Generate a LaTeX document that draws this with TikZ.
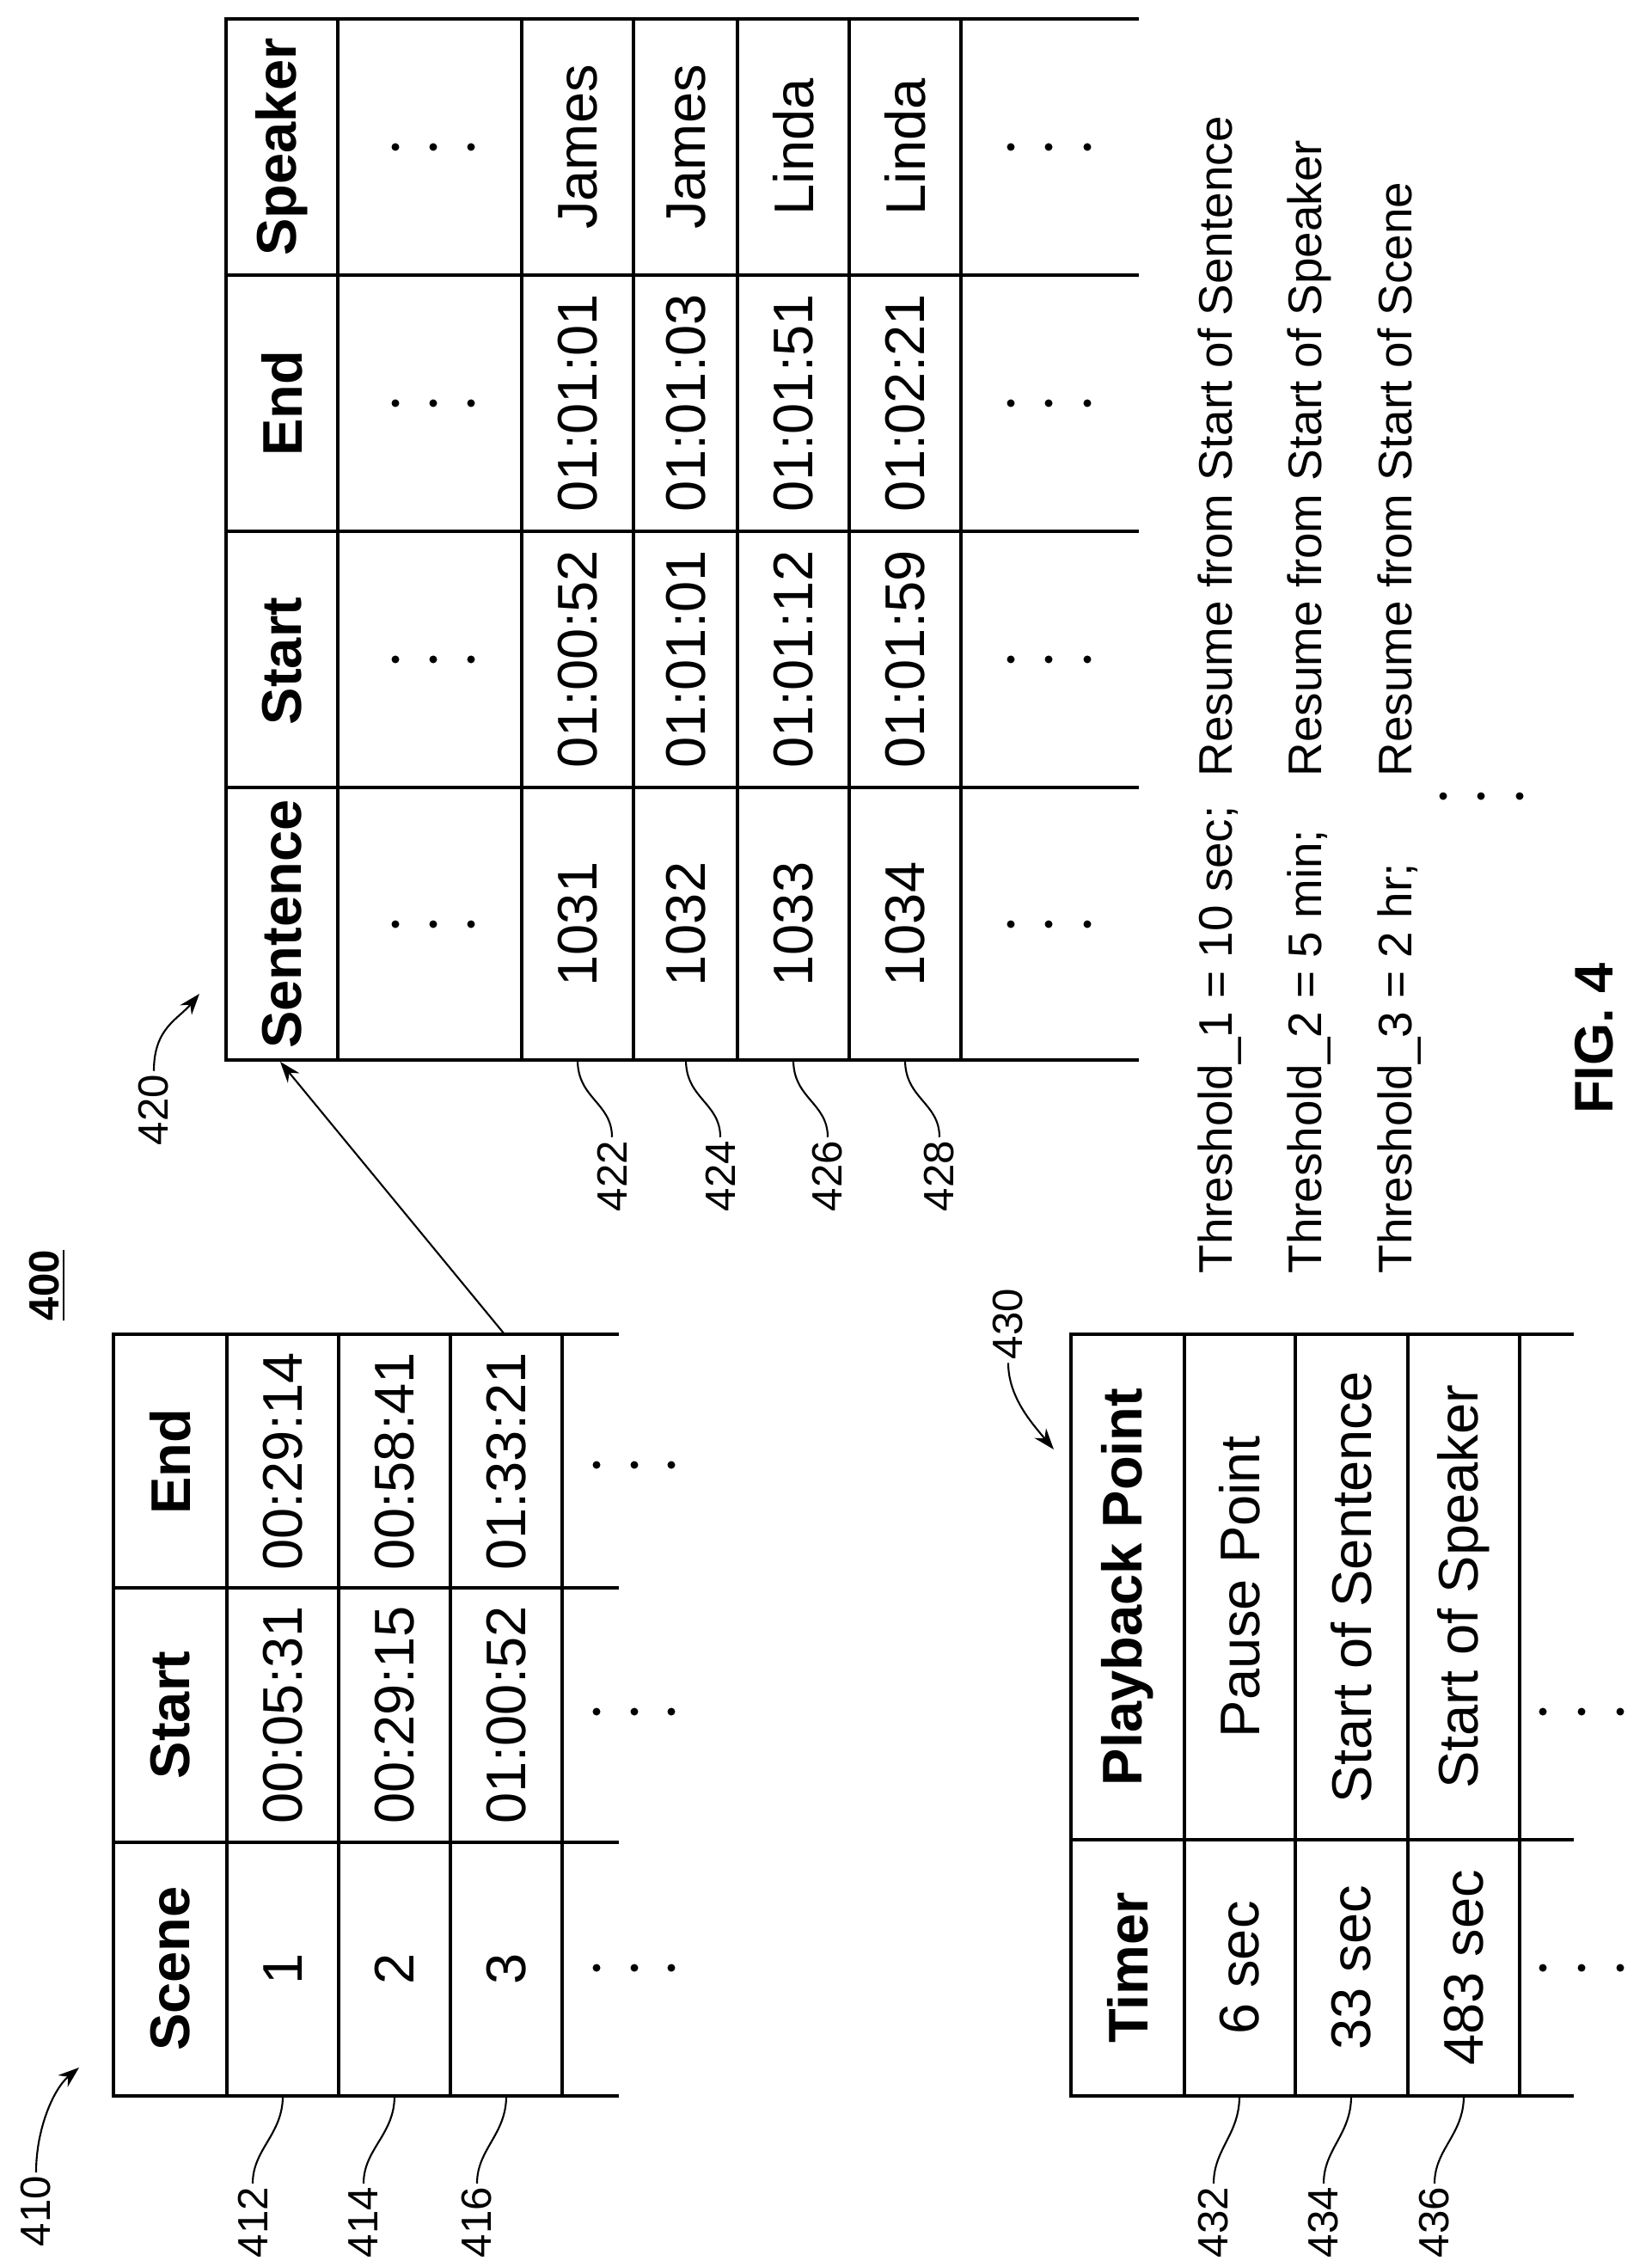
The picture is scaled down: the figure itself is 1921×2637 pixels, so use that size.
\documentclass[tikz,border=0pt]{standalone}
\usepackage{fontspec}
\setmainfont{Liberation Sans}
\usetikzlibrary{arrows.meta}
\begin{document}
\begin{tikzpicture}[x=0.1mm,y=-0.1mm,
  tl/.style={line width=0.9pt},
  cell/.style={rotate=90,inner sep=0pt,font=\fontsize{18.5}{22}\selectfont},
  hdr/.style={cell,font=\fontsize{18.5}{22}\selectfont\bfseries},
  lab/.style={rotate=90,inner sep=1pt,font=\fontsize{14}{16}\selectfont},
  thr/.style={rotate=90,inner sep=0pt,anchor=base west,font=\fontsize{15.6}{18}\selectfont},
  ld/.style={line width=0.6pt},
  arr/.style={line width=0.6pt,-{Stealth[length=7pt,width=5pt]}},
  dot/.style={fill=black,draw=none}]
\useasboundingbox (0,0) rectangle (1921,2637);
% ---------- table 410 ----------
\draw[tl] (720,1552) -- (132,1552) -- (132,2438) -- (720,2438);
\draw[tl] (132,1847) -- (720,1847) (132,2143) -- (720,2143);
\foreach \x in {264,394,524,654} \draw[tl] (\x,1552) -- (\x,2438);
\node[hdr] (a11) at (198,2290) {Scene};
\node[hdr] (a12) at (198,1995) {Start};
\node[hdr] (a13) at (198,1700) {End};
\node[cell] (a21) at (329,2290) {1};
\node[cell] (a22) at (329,1995) {00:05:31};
\node[cell] (a23) at (329,1700) {00:29:14};
\node[cell] (a31) at (459,2290) {2};
\node[cell] (a32) at (459,1995) {00:29:15};
\node[cell] (a33) at (459,1700) {00:58:41};
\node[cell] (a41) at (589,2290) {3};
\node[cell] (a42) at (589,1995) {01:00:52};
\node[cell] (a43) at (589,1700) {01:33:21};
\foreach \y in {2289,1991,1704} \foreach \x in {694,738,781} \fill[dot] (\x,\y) circle (4.5);
% ---------- table 420 ----------
\draw[tl] (1325,22) -- (263,22) -- (263,1233) -- (1325,1233);
\foreach \y in {320,618,916} \draw[tl] (263,\y) -- (1325,\y);
\foreach \x in {393,607,737,858,988,1118} \draw[tl] (\x,22) -- (\x,1233);
\node[hdr] (b11) at (328,1075) {Sentence};
\node[hdr] (b12) at (328,769) {Start};
\node[hdr] (b13) at (328,469) {End};
\node[hdr] (b14) at (328,171) {Speaker};
\foreach \y in {1075,767,469,171} {
  \foreach \x in {460,504,548} \fill[dot] (\x,\y) circle (4.5);
  \foreach \x in {1176,1220,1265} \fill[dot] (\x,\y) circle (4.5);}
\node[cell] (b21) at (672,1075) {1031};
\node[cell] (b22) at (672,767) {01:00:52};
\node[cell] (b23) at (672,469) {01:01:01};
\node[cell] (b24) at (672,171) {James};
\node[cell] (b31) at (798,1075) {1032};
\node[cell] (b32) at (798,767) {01:01:01};
\node[cell] (b33) at (798,469) {01:01:03};
\node[cell] (b34) at (798,171) {James};
\node[cell] (b41) at (923,1075) {1033};
\node[cell] (b42) at (923,767) {01:01:12};
\node[cell] (b43) at (923,469) {01:01:51};
\node[cell] (b44) at (923,171) {Linda};
\node[cell] (b51) at (1053,1075) {1034};
\node[cell] (b52) at (1053,767) {01:01:59};
\node[cell] (b53) at (1053,469) {01:02:21};
\node[cell] (b54) at (1053,171) {Linda};
% ---------- table 430 ----------
\draw[tl] (1831,1552) -- (1246,1552) -- (1246,2438) -- (1831,2438);
\draw[tl] (1246,2140) -- (1831,2140);
\foreach \x in {1378,1507,1638,1768} \draw[tl] (\x,1552) -- (\x,2438);
\node[hdr] (c11) at (1312,2289) {Timer};
\node[hdr] (c12) at (1312,1846) {Playback Point};
\node[cell] (c21) at (1442,2289) {6 sec};
\node[cell] (c22) at (1442,1846) {Pause Point};
\node[cell] (c31) at (1572,2289) {33 sec};
\node[cell] (c32) at (1572,1846) {Start of Sentence};
\node[cell] (c41) at (1703,2289) {483 sec};
\node[cell] (c42) at (1703,1846) {Start of Speaker};
\foreach \y in {2289,1991} \foreach \x in {1795,1840,1885} \fill[dot] (\x,\y) circle (4.5);
% ---------- thresholds ----------
\node[thr] (t1) at (1433,1482) {Threshold\_1 = 10 sec;};
\node[thr] (t2) at (1537,1482) {Threshold\_2 = 5 min;};
\node[thr] (t3) at (1642,1482) {Threshold\_3 = 2 hr;};
\node[thr] (r1) at (1433,904) {Resume from Start of Sentence};
\node[thr] (r2) at (1537,904) {Resume from Start of Speaker};
\node[thr] (r3) at (1642,904) {Resume from Start of Scene};
\foreach \x in {1679,1723,1768} \fill[dot] (\x,926) circle (4.5);
\node[rotate=90,inner sep=0pt,font=\fontsize{18}{20}\selectfont\bfseries] (fig) at (1855,1208) {FIG. 4};
\node[rotate=90,inner sep=0pt,font=\fontsize{14}{16}\selectfont\bfseries] (n400) at (55,1495) {\underline{400}};
% ---------- labels & leaders ----------
\node[lab] (l410) at (42,2572) {410};
\node[lab] (l412) at (294,2585) {412};
\node[lab] (l414) at (423,2585) {414};
\node[lab] (l416) at (555,2585) {416};
\node[lab] (l420) at (179,1291) {420};
\node[lab] (l422) at (712,1368) {422};
\node[lab] (l424) at (838,1368) {424};
\node[lab] (l426) at (963,1368) {426};
\node[lab] (l428) at (1093,1368) {428};
\node[lab] (l430) at (1173,1540) {430};
\node[lab] (l432) at (1412,2585) {432};
\node[lab] (l434) at (1540,2585) {434};
\node[lab] (l436) at (1669,2585) {436};
\coordinate (e412) at (329,2438);
\coordinate (e414) at (459,2438);
\coordinate (e416) at (589,2438);
\coordinate (e432) at (1442,2438);
\coordinate (e434) at (1572,2438);
\coordinate (e436) at (1703,2438);
\coordinate (e422) at (672,1233);
\coordinate (e424) at (798,1233);
\coordinate (e426) at (923,1233);
\coordinate (e428) at (1053,1233);
\foreach \n in {412,414,416,432,434,436,422,424,426,428}
  \draw[ld] (l\n.east) .. controls +(0,-40) and +(0,45) .. (e\n);
\coordinate (h410) at (92,2405);
\coordinate (h420) at (232,1156);
\coordinate (h430) at (1226,1686);
\draw[arr] (l410.east) .. controls +(0,-50) and +(-30,25) .. (h410);
\draw[arr] (l420.east) .. controls +(0,-50) and +(-25,30) .. (h420);
\draw[arr] (l430.west) .. controls +(0,40) and +(-25,-30) .. (h430);
\coordinate (s1) at (587,1552);
\coordinate (s2) at (326,1235);
\draw[arr] (s1) -- (s2);
\end{tikzpicture}
\end{document}
